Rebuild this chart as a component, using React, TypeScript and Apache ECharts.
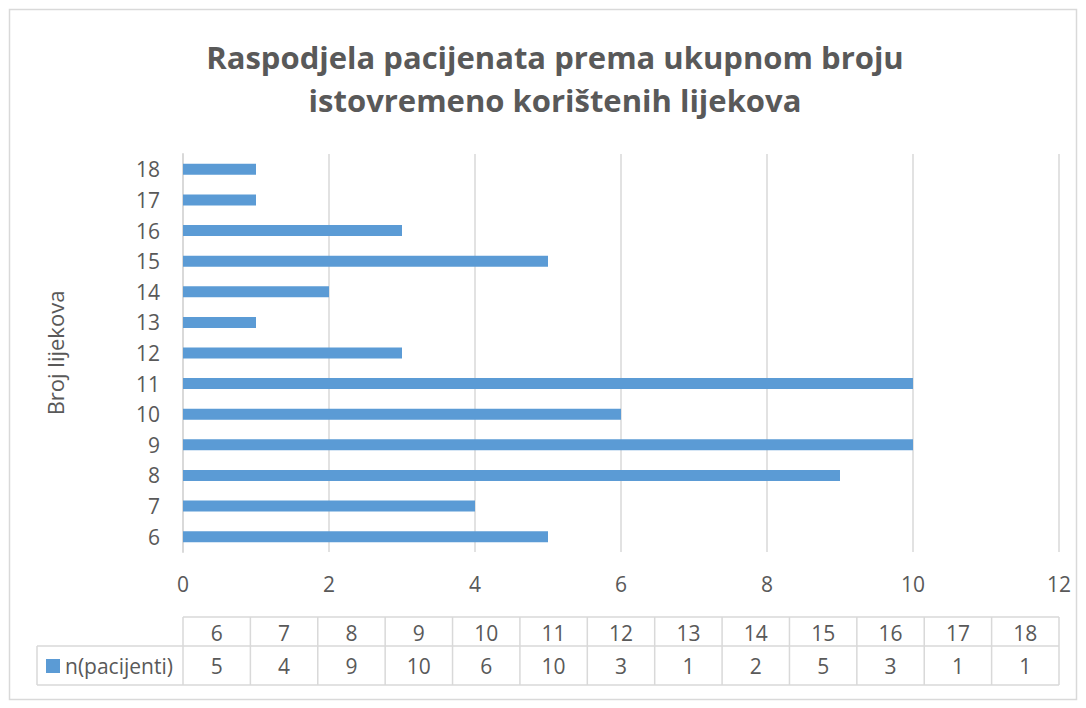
import React, { useEffect, useRef } from "react";
import * as echarts from "echarts";

const titleLines = ["Raspodjela pacijenata prema ukupnom broju", "istovremeno korištenih lijekova"];
const categories = ["6", "7", "8", "9", "10", "11", "12", "13", "14", "15", "16", "17", "18"];
const seriesName = "n(pacijenti)";
const values = [5, 4, 9, 10, 6, 10, 3, 1, 2, 5, 3, 1, 1];
const yAxisTitle = "Broj lijekova";
const xMin = 0;
const xMax = 12;
const xInterval = 2;

const BAR_COLOR = "#5B9BD5";
const TEXT_COLOR = "#595959";
const LINE_COLOR = "#D9D9D9";
const FONT = "'Open Sans', 'Noto Sans', sans-serif";
const LABEL_SIZE = 21;

export default function App() {
  const ref = useRef<HTMLDivElement>(null);

  useEffect(() => {
    if (!ref.current) return;
    const chart = echarts.init(ref.current, undefined, { renderer: "svg" });

    const gridLeft = 183;
    const gridRight = 1059;
    const tableTop = 617;
    const tableMid = 646;
    const tableBottom = 685;
    const legendLeft = 37;
    const colW = (gridRight - gridLeft) / categories.length;

    const tableEls: any[] = [];
    const ls = { stroke: LINE_COLOR, lineWidth: 1.5 };
    tableEls.push({ type: "line", shape: { x1: gridLeft, y1: tableTop, x2: gridRight, y2: tableTop }, style: ls });
    tableEls.push({ type: "line", shape: { x1: legendLeft, y1: tableMid, x2: gridRight, y2: tableMid }, style: ls });
    tableEls.push({ type: "line", shape: { x1: legendLeft, y1: tableBottom, x2: gridRight, y2: tableBottom }, style: ls });
    tableEls.push({ type: "line", shape: { x1: legendLeft, y1: tableMid, x2: legendLeft, y2: tableBottom }, style: ls });
    for (let i = 0; i <= categories.length; i++) {
      const x = gridLeft + i * colW;
      tableEls.push({ type: "line", shape: { x1: x, y1: tableTop, x2: x, y2: tableBottom }, style: ls });
    }
    categories.forEach((c, i) => {
      const cx = gridLeft + (i + 0.5) * colW;
      tableEls.push({ type: "text", x: cx, y: (tableTop + tableMid) / 2 + 1, style: { text: c, fill: TEXT_COLOR, font: `${LABEL_SIZE}px ${FONT}`, textAlign: "center", textVerticalAlign: "middle" } });
      tableEls.push({ type: "text", x: cx, y: (tableMid + tableBottom) / 2, style: { text: String(values[i]), fill: TEXT_COLOR, font: `${LABEL_SIZE}px ${FONT}`, textAlign: "center", textVerticalAlign: "middle" } });
    });
    tableEls.push({ type: "rect", shape: { x: 46, y: 659, width: 14, height: 14 }, style: { fill: BAR_COLOR } });
    tableEls.push({ type: "text", x: 65, y: (tableMid + tableBottom) / 2, style: { text: seriesName, fill: TEXT_COLOR, font: `${LABEL_SIZE}px ${FONT}`, textAlign: "left", textVerticalAlign: "middle" } });

    chart.setOption({
      animation: false,
      backgroundColor: "#FFFFFF",
      grid: { left: gridLeft, right: 1086 - gridRight, top: 154, bottom: 708 - 552, containLabel: false },
      xAxis: {
        type: "value",
        min: xMin,
        max: xMax,
        interval: xInterval,
        axisLine: { show: false },
        axisTick: { show: false },
        splitLine: { show: true, lineStyle: { color: LINE_COLOR, width: 1.5 } },
        axisLabel: { color: TEXT_COLOR, fontSize: LABEL_SIZE, fontFamily: FONT, margin: 21 },
      },
      yAxis: {
        type: "category",
        data: categories,
        name: yAxisTitle,
        nameLocation: "middle",
        nameRotate: 90,
        nameGap: 117,
        nameTextStyle: { color: TEXT_COLOR, fontSize: 22, fontFamily: FONT },
        axisLine: { show: true, lineStyle: { color: LINE_COLOR, width: 2 } },
        axisTick: { show: false },
        axisLabel: { color: TEXT_COLOR, fontSize: LABEL_SIZE, fontFamily: FONT, margin: 23 },
        splitLine: { show: false },
      },
      series: [
        {
          type: "bar",
          name: seriesName,
          data: values,
          barWidth: 11,
          itemStyle: { color: BAR_COLOR },
        },
      ],
      graphic: [
        { type: "rect", shape: { x: 9.5, y: 9.5, width: 1067, height: 690 }, style: { fill: "none", stroke: LINE_COLOR, lineWidth: 1.5 }, silent: true },
        { type: "text", x: 555, y: 57, style: { text: titleLines[0], fill: TEXT_COLOR, font: `bold 31px ${FONT}`, textAlign: "center", textVerticalAlign: "middle" } },
        { type: "text", x: 555, y: 100, style: { text: titleLines[1], fill: TEXT_COLOR, font: `bold 31px ${FONT}`, textAlign: "center", textVerticalAlign: "middle" } },
        ...tableEls,
      ],
    });

    return () => chart.dispose();
  }, []);

  return <div ref={ref} style={{ position: "fixed", left: 0, top: 0, width: 1086, height: 708 }} />;
}
